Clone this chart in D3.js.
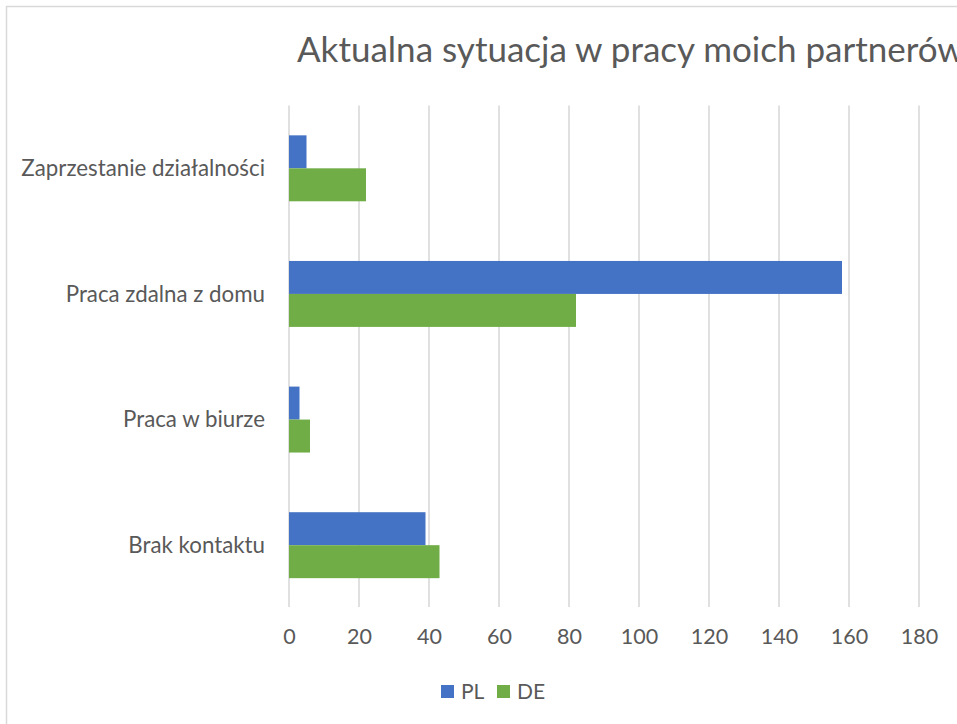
<!DOCTYPE html>
<html><head><meta charset="utf-8">
<script src="https://cdn.jsdelivr.net/npm/d3@7"></script>
<style>body{margin:0;background:#fff}svg{display:block}</style>
</head><body>
<svg id="c" width="957" height="724"></svg>
<script>
const title = "Aktualna sytuacja w pracy moich partnerów";
const categories = ["Zaprzestanie działalności", "Praca zdalna z domu", "Praca w biurze", "Brak kontaktu"];
const seriesNames = ["PL", "DE"];
const plValues = [5, 158, 3, 39];
const deValues = [22, 82, 6, 43];
const xTicks = [0, 20, 40, 60, 80, 100, 120, 140, 160, 180];
const colors = {PL: "#4472C4", DE: "#70AD47"};

const font = "Lato, 'Open Sans', sans-serif";
const textColor = "#595959";
const svg = d3.select("#c");

// chart border
svg.append("rect").attr("x", 6.5).attr("y", 6.5).attr("width", 1000).attr("height", 800)
  .attr("fill", "#fff").attr("stroke", "#D9D9D9").attr("stroke-width", 1.5);

const x = d3.scaleLinear().domain([0, 180]).range([289, 919]);
const y = d3.scaleBand().domain(categories).range([105.5, 608]).paddingInner(0.475).paddingOuter(0.2375);
const ySub = d3.scaleBand().domain(seriesNames).range([0, y.bandwidth()]);

// gridlines
svg.append("g").selectAll("line").data(xTicks).join("line")
  .attr("x1", d => x(d)).attr("x2", d => x(d))
  .attr("y1", 105.5).attr("y2", 607)
  .attr("stroke", "#D9D9D9").attr("stroke-width", 1.6);

// axis tick labels via d3 axis
const axis = svg.append("g").attr("transform", "translate(0,607)")
  .call(d3.axisBottom(x).tickValues(xTicks).tickSize(0).tickPadding(0));
axis.select(".domain").remove();
axis.selectAll("text").attr("font-family", font).attr("font-size", 21.5)
  .attr("fill", textColor).attr("dy", null).attr("y", 37);

// bars
const rows = categories.map((c, i) => ({cat: c, PL: plValues[i], DE: deValues[i]}));
const g = svg.append("g");
rows.forEach(r => {
  seriesNames.forEach(s => {
    g.append("rect")
      .attr("x", x(0))
      .attr("y", y(r.cat) + ySub(s))
      .attr("width", x(r[s]) - x(0))
      .attr("height", ySub.bandwidth())
      .attr("fill", colors[s]);
  });
});

// category labels
const yAxis = svg.append("g").attr("transform", "translate(265,0)")
  .call(d3.axisLeft(y).tickSize(0).tickPadding(0));
yAxis.select(".domain").remove();
yAxis.selectAll("text").attr("font-family", font).attr("font-size", 22.3)
  .attr("fill", textColor).attr("dy", "0.35em");

// title
svg.append("text").attr("x", 297).attr("y", 62).text(title)
  .attr("font-family", font).attr("font-size", 35).attr("fill", textColor);

// legend
const leg = svg.append("g");
const legX = {PL: 441, DE: 497};
seriesNames.forEach(s => {
  leg.append("rect").attr("x", legX[s]).attr("y", 685).attr("width", 13).attr("height", 13).attr("fill", colors[s]);
  leg.append("text").attr("x", legX[s] + 20).attr("y", 699).text(s)
    .attr("font-family", font).attr("font-size", 21).attr("fill", textColor);
});
</script>
</body></html>
